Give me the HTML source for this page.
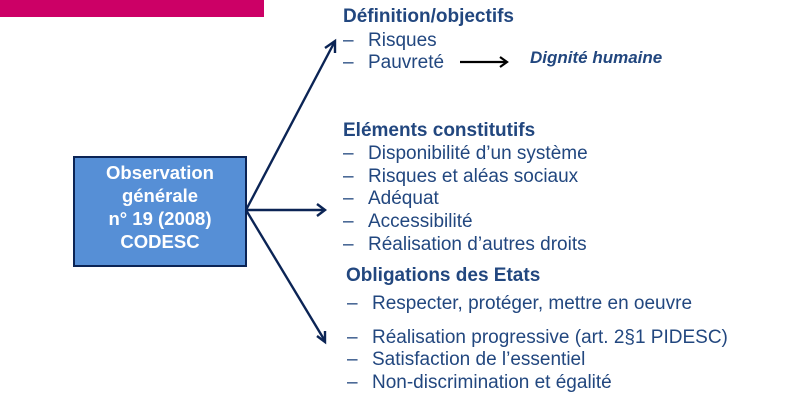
<!DOCTYPE html>
<html><head><meta charset="utf-8"><style>
body{margin:0;width:804px;height:408px;background:#fff;position:relative;overflow:hidden;font-family:"Liberation Sans",Arial,sans-serif;color:#22477f}
.t{position:absolute;white-space:nowrap;line-height:1;font-size:19px}
.h{font-weight:bold;font-size:19px}
</style></head><body>
<div style="position:absolute;left:0;top:0;width:264px;height:17px;background:#cc0066"></div>
<div style="position:absolute;left:73px;top:156px;width:170px;background:#568fd6;border:2px solid #0b2455;color:#fff;font-weight:bold;font-size:18.5px;line-height:23px;text-align:center;padding-top:3px;height:104px">Observation<br>générale<br>n° 19 (2008)<br>CODESC</div>
<svg width="804" height="408" style="position:absolute;left:0;top:0">
<g stroke="#0b2455" stroke-width="2.4" fill="none">
<line x1="246" y1="210" x2="334" y2="43"/><polyline points="325,48 335,41 335,53"/>
<line x1="246" y1="210" x2="324" y2="210"/><polyline points="317,204 325,210 317,216"/>
<line x1="246" y1="210" x2="325" y2="341"/><polyline points="317,336 325,342 325,331"/>
</g>
<g stroke="#000" stroke-width="2.2" fill="none"><line x1="460" y1="62" x2="507" y2="62"/><polyline points="500,57 507,62 500,67"/></g>
</svg>
<div class="t h" style="left:343px;top:7px">Définition/objectifs</div>
<div class="t" style="left:343px;top:31px">–</div><div class="t" style="left:368px;top:31px">Risques</div>
<div class="t" style="left:343px;top:53px">–</div><div class="t" style="left:368px;top:53px">Pauvreté</div>
<div class="t" style="left:530px;top:49px;font-weight:bold;font-style:italic;font-size:17px">Dignité humaine</div>
<div class="t h" style="left:343px;top:121px">Eléments constitutifs</div>
<div class="t" style="left:343px;top:144px">–</div><div class="t" style="left:368px;top:144px">Disponibilité d’un système</div>
<div class="t" style="left:343px;top:167px">–</div><div class="t" style="left:368px;top:167px">Risques et aléas sociaux</div>
<div class="t" style="left:343px;top:189px">–</div><div class="t" style="left:368px;top:189px">Adéquat</div>
<div class="t" style="left:343px;top:212px">–</div><div class="t" style="left:368px;top:212px">Accessibilité</div>
<div class="t" style="left:343px;top:235px">–</div><div class="t" style="left:368px;top:235px">Réalisation d’autres droits</div>
<div class="t h" style="left:346px;top:266px">Obligations des Etats</div>
<div class="t" style="left:347px;top:294px">–</div><div class="t" style="left:372px;top:294px">Respecter, protéger, mettre en oeuvre</div>
<div class="t" style="left:347px;top:328px">–</div><div class="t" style="left:372px;top:328px">Réalisation progressive (art. 2§1 PIDESC)</div>
<div class="t" style="left:347px;top:350px">–</div><div class="t" style="left:372px;top:350px">Satisfaction de l’essentiel</div>
<div class="t" style="left:347px;top:373px">–</div><div class="t" style="left:372px;top:373px">Non-discrimination et égalité</div>
</body></html>
